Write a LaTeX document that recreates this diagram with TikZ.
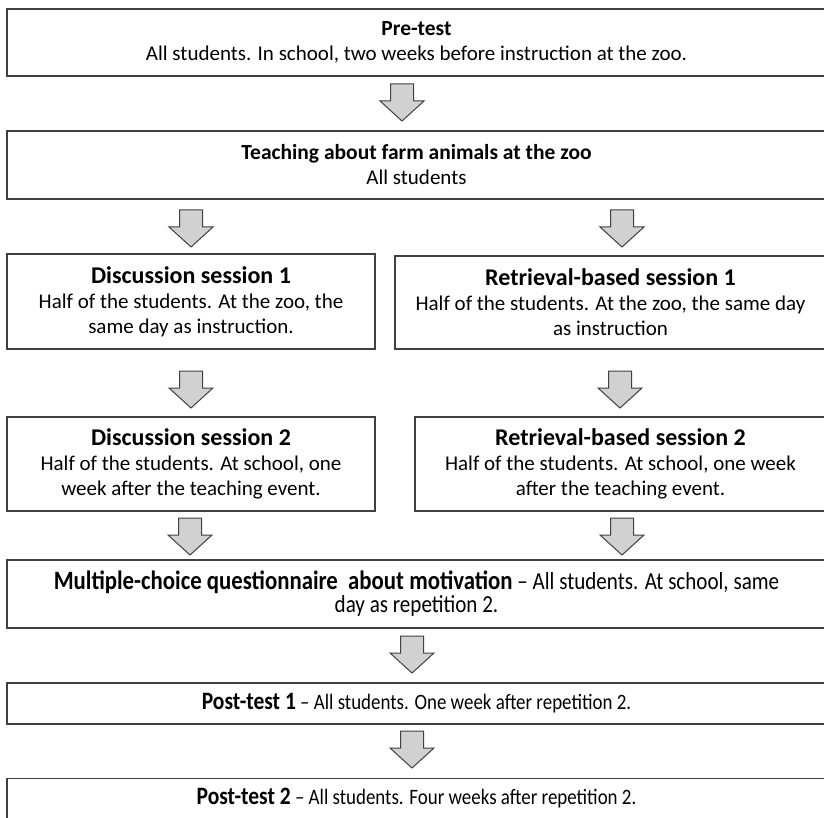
\documentclass[tikz,border=0pt]{standalone}
\usepackage{fontspec}
\setmainfont{Carlito}
\newfontfamily\condfont[FakeStretch=0.86,Ligatures=TeX]{Carlito}
\begin{document}
\begin{tikzpicture}[x=1pt,y=1pt,
  box/.style={draw=black!75, line width=1.3pt, fill=white, rectangle, inner sep=0pt,
    align=center, font=\fontsize{21}{25}\selectfont},
  mcbox/.style={box, font=\condfont\fontsize{24.5}{23}\selectfont},
  ptbox/.style={box, font=\condfont\fontsize{22}{24}\selectfont},
  downarrow/.pic={\draw[fill=black!18, draw=black!75, line width=1pt, line join=miter]
    (-11.5,0) -- (11.5,0) -- (11.5,-17) -- (22,-17) -- (0,-37) -- (-22,-17) -- (-11.5,-17) -- cycle;}
]
\newcommand{\toptitle}{\fontsize{21.5}{25}\selectfont\bfseries}
\newcommand{\sestitle}{\fontsize{24}{25}\selectfont\bfseries}
\useasboundingbox (0,0) rectangle (824,-818);
\fill[white] (0,0) rectangle (824,-818);

\node[box, minimum width=819pt, minimum height=67pt] (pre) at (416.5,-42.5)
  {{\toptitle Pre-test}\\All students. In school, two weeks before instruction at the zoo.};
\node[box, minimum width=819pt, minimum height=68pt] (teach) at (416.5,-165)
  {{\toptitle Teaching about farm animals at the zoo}\\All students};
\node[box, minimum width=368pt, minimum height=95pt] (ds1) at (191,-301.5)
  {{\sestitle Discussion session 1}\\Half of the students. At the zoo, the\\same day as instruction.};
\node[box, minimum width=431pt, minimum height=93pt] (rb1) at (610.5,-302.5)
  {{\sestitle Retrieval-based session 1}\\Half of the students. At the zoo, the same day\\as instruction};
\node[box, minimum width=368pt, minimum height=94pt] (ds2) at (191,-464)
  {{\sestitle Discussion session 2}\\Half of the students. At school, one\\week after the teaching event.};
\node[box, minimum width=411pt, minimum height=94pt] (rb2) at (620.5,-464)
  {{\sestitle Retrieval-based session 2}\\Half of the students. At school, one week\\after the teaching event.};
\node[mcbox, minimum width=819pt, minimum height=68pt] (mc) at (416.5,-594)
  {\raisebox{-3pt}{{\fontsize{26.5}{23}\selectfont\bfseries Multiple-choice questionnaire\ \ about motivation} – All students. At school, same}\\\raisebox{-3pt}{day as repetition 2.}};
\node[ptbox, minimum width=819pt, minimum height=41pt] (pt1) at (416.5,-703.5)
  {{\fontsize{25}{24}\selectfont\bfseries Post-test 1} – All students. One week after repetition 2.};
\node[ptbox, minimum width=819pt, minimum height=60pt, anchor=north] (pt2) at (416.5,-778)
  {\raisebox{24pt}{{\fontsize{25}{24}\selectfont\bfseries Post-test 2} – All students. Four weeks after repetition 2.}};

\pic at (402,-84) {downarrow};
\pic at (191,-210) {downarrow};
\pic at (622,-210) {downarrow};
\pic at (191,-371) {downarrow};
\pic at (620,-371) {downarrow};
\pic at (190,-518) {downarrow};
\pic at (622,-518) {downarrow};
\pic at (412,-636) {downarrow};
\pic at (412,-731) {downarrow};
\end{tikzpicture}
\end{document}
